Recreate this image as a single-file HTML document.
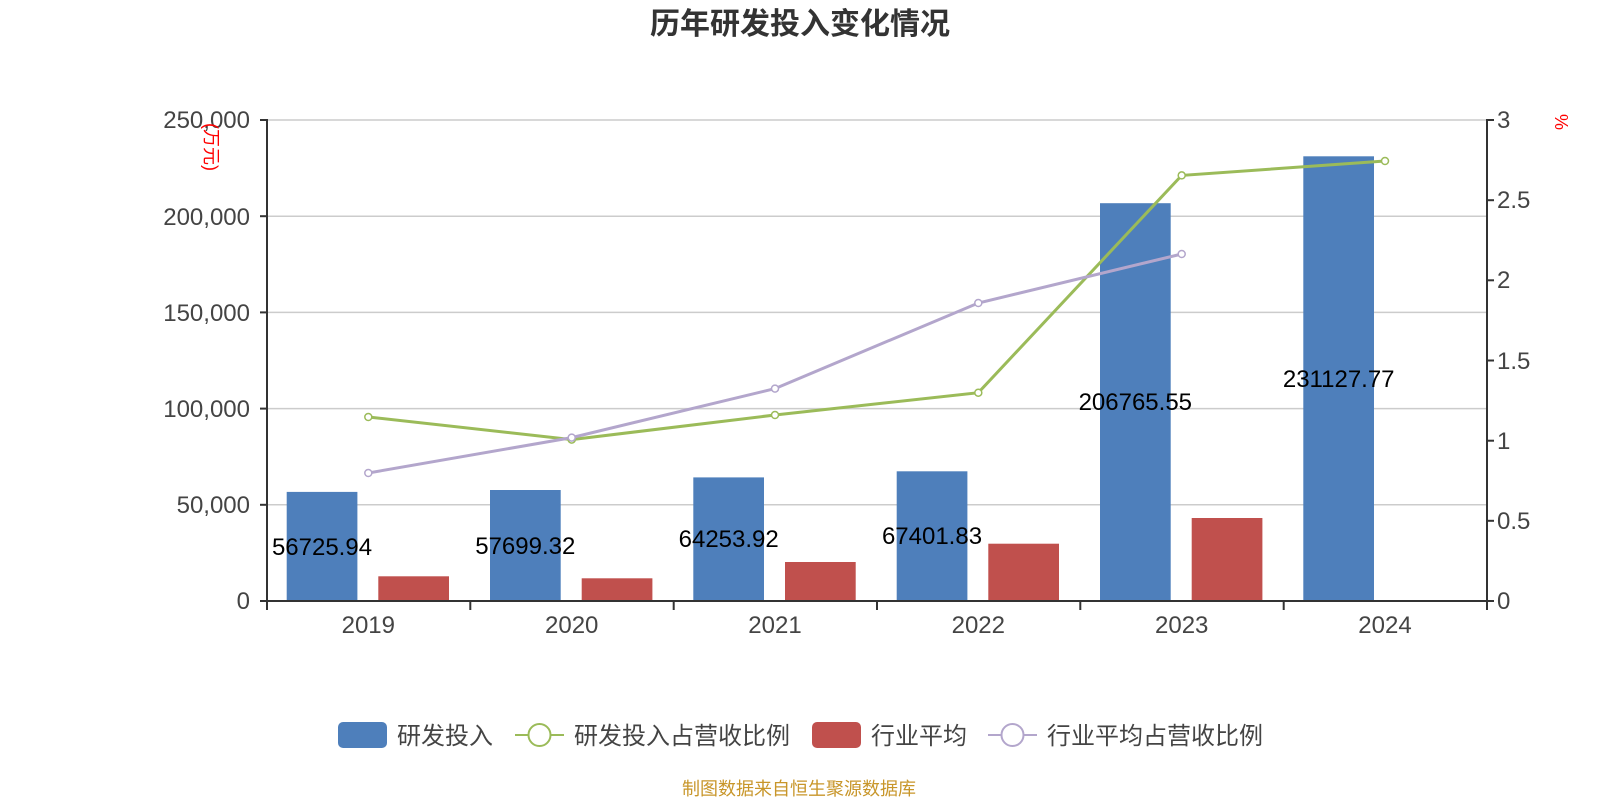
<!DOCTYPE html>
<html><head><meta charset="utf-8"><style>
body{margin:0;background:#fff;}
svg text{font-family:"Liberation Sans","Noto Sans CJK SC",sans-serif;}
</style></head><body>
<svg width="1600" height="800" viewBox="0 0 1600 800" xmlns="http://www.w3.org/2000/svg">
<text x="800" y="34" text-anchor="middle" font-size="30" font-weight="bold" fill="#333">历年研发投入变化情况</text>
<g stroke="#ccc" stroke-width="1.5">
<line x1="267" x2="1487" y1="120" y2="120"/>
<line x1="267" x2="1487" y1="216.2" y2="216.2"/>
<line x1="267" x2="1487" y1="312.4" y2="312.4"/>
<line x1="267" x2="1487" y1="408.6" y2="408.6"/>
<line x1="267" x2="1487" y1="504.8" y2="504.8"/>
</g>
<g font-size="24" fill="#444" text-anchor="end">
<text x="250" y="128">250,000</text>
<text x="250" y="225">200,000</text>
<text x="250" y="321">150,000</text>
<text x="250" y="417">100,000</text>
<text x="250" y="513">50,000</text>
<text x="250" y="609">0</text>
</g>
<g font-size="24" fill="#444">
<text x="1497" y="128">3</text>
<text x="1497" y="208">2.5</text>
<text x="1497" y="288">2</text>
<text x="1497" y="369">1.5</text>
<text x="1497" y="449">1</text>
<text x="1497" y="529">0.5</text>
<text x="1497" y="609">0</text>
</g>
<text transform="translate(205,147) rotate(90)" font-size="18" fill="red" text-anchor="middle">(万元)</text>
<text transform="translate(1555,122) rotate(90)" font-size="18" fill="red" text-anchor="middle">%</text>
<g fill="#4e7fbb">
<rect x="286.7" y="491.9" width="70.7" height="109.1"/>
<rect x="490" y="490" width="70.7" height="111"/>
<rect x="693.3" y="477.4" width="70.7" height="123.6"/>
<rect x="896.7" y="471.3" width="70.7" height="129.7"/>
<rect x="1100" y="203.2" width="70.7" height="397.8"/>
<rect x="1303.3" y="156.3" width="70.7" height="444.7"/>
</g>
<g fill="#c0504d">
<rect x="378.3" y="576.3" width="70.7" height="24.7"/>
<rect x="581.7" y="578.3" width="70.7" height="22.7"/>
<rect x="785" y="562" width="70.7" height="39"/>
<rect x="988.3" y="543.7" width="70.7" height="57.3"/>
<rect x="1191.7" y="518" width="70.7" height="83"/>
</g>
<g stroke="#333" stroke-width="2" fill="none">
<line x1="267" x2="267" y1="119" y2="602"/>
<line x1="1487" x2="1487" y1="119" y2="602"/>
<line x1="260" x2="1494" y1="601" y2="601"/>
<line x1="260" x2="267" y1="120" y2="120"/><line x1="260" x2="267" y1="216.2" y2="216.2"/><line x1="260" x2="267" y1="312.4" y2="312.4"/><line x1="260" x2="267" y1="408.6" y2="408.6"/><line x1="260" x2="267" y1="504.8" y2="504.8"/>
<line x1="1487" x2="1494" y1="120" y2="120"/><line x1="1487" x2="1494" y1="200.2" y2="200.2"/><line x1="1487" x2="1494" y1="280.3" y2="280.3"/><line x1="1487" x2="1494" y1="360.5" y2="360.5"/><line x1="1487" x2="1494" y1="440.7" y2="440.7"/><line x1="1487" x2="1494" y1="520.8" y2="520.8"/>
<line x1="267" x2="267" y1="601" y2="610"/><line x1="470.3" x2="470.3" y1="601" y2="610"/><line x1="673.7" x2="673.7" y1="601" y2="610"/><line x1="877" x2="877" y1="601" y2="610"/><line x1="1080.3" x2="1080.3" y1="601" y2="610"/><line x1="1283.7" x2="1283.7" y1="601" y2="610"/><line x1="1487" x2="1487" y1="601" y2="610"/>
</g>
<g font-size="24" fill="#444" text-anchor="middle">
<text x="368.3" y="633">2019</text><text x="571.7" y="633">2020</text><text x="775" y="633">2021</text><text x="978.3" y="633">2022</text><text x="1181.7" y="633">2023</text><text x="1385" y="633">2024</text>
</g>
<g font-size="24" fill="#000" text-anchor="middle">
<text x="322" y="555">56725.94</text><text x="525.3" y="554">57699.32</text><text x="728.7" y="547">64253.92</text><text x="932" y="544">67401.83</text><text x="1135.3" y="410">206765.55</text><text x="1338.7" y="387">231127.77</text>
</g>
<polyline fill="none" stroke="#9bbb59" stroke-width="3" points="368.3,417 571.7,439.6 775,415 978.3,392.7 1181.7,175.4 1385,161"/>
<polyline fill="none" stroke="#b3a6cc" stroke-width="3" points="368.3,473 571.7,437.6 775,388.6 978.3,303 1181.7,254"/>
<g fill="#fff" stroke="#9bbb59" stroke-width="1.5">
<circle cx="368.3" cy="417" r="3.5"/><circle cx="571.7" cy="439.6" r="3.5"/><circle cx="775" cy="415" r="3.5"/><circle cx="978.3" cy="392.7" r="3.5"/><circle cx="1181.7" cy="175.4" r="3.5"/><circle cx="1385" cy="161" r="3.5"/>
</g>
<g fill="#fff" stroke="#b3a6cc" stroke-width="1.5">
<circle cx="368.3" cy="473" r="3.5"/><circle cx="571.7" cy="437.6" r="3.5"/><circle cx="775" cy="388.6" r="3.5"/><circle cx="978.3" cy="303" r="3.5"/><circle cx="1181.7" cy="254" r="3.5"/>
</g>
<rect x="338" y="722" width="49" height="26" rx="5" fill="#4e7fbb"/>
<text x="397" y="744" font-size="24" fill="#444">研发投入</text>
<line x1="515" x2="564" y1="735" y2="735" stroke="#9bbb59" stroke-width="2"/>
<circle cx="539.5" cy="735" r="11" fill="#fff" stroke="#9bbb59" stroke-width="2"/>
<text x="574" y="744" font-size="24" fill="#444">研发投入占营收比例</text>
<rect x="812" y="722" width="49" height="26" rx="5" fill="#c0504d"/>
<text x="871" y="744" font-size="24" fill="#444">行业平均</text>
<line x1="988" x2="1037" y1="735" y2="735" stroke="#b3a6cc" stroke-width="2"/>
<circle cx="1012.5" cy="735" r="11" fill="#fff" stroke="#b3a6cc" stroke-width="2"/>
<text x="1047" y="744" font-size="24" fill="#444">行业平均占营收比例</text>
<text x="799" y="795" font-size="18" fill="#c8962a" text-anchor="middle">制图数据来自恒生聚源数据库</text>
</svg>
</body></html>
